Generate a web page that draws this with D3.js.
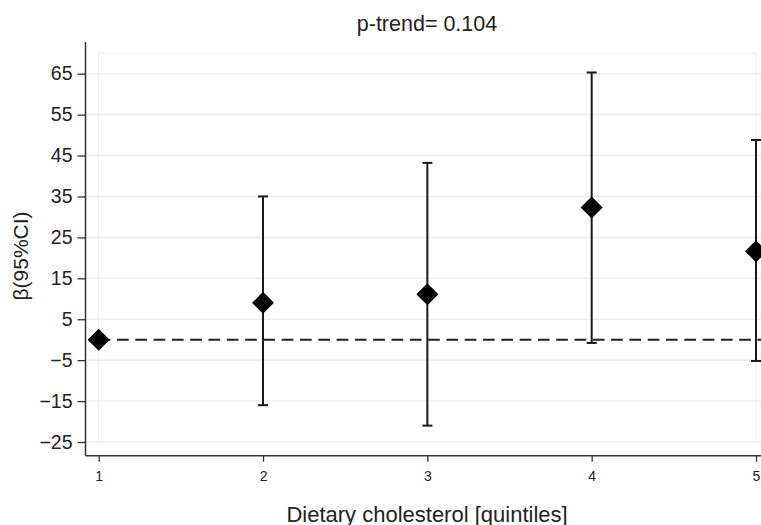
<!DOCTYPE html>
<html>
<head>
<meta charset="utf-8">
<script src="https://cdn.jsdelivr.net/npm/d3@7"></script>
<style>
  html, body { margin: 0; padding: 0; background: #fff; }
  svg { display: block; font-family: "Liberation Sans", Arial, sans-serif; }
</style>
</head>
<body>
<svg id="chart" width="761" height="525"></svg>
<script>
// ---- data ----
const quintiles = [1, 2, 3, 4, 5];
const beta      = [0, 9.0, 11.1, 32.3, 21.6];
const ciLower   = [null, -16.0, -21.0, -0.8, -5.2];
const ciUpper   = [null, 35.0, 43.2, 65.3, 48.8];
const yTicks    = [-25, -15, -5, 5, 15, 25, 35, 45, 55, 65];
const xTicks    = [1, 2, 3, 4, 5];
const titleText = "p-trend= 0.104";
const xTitle    = "Dietary cholesterol [quintiles]";
const yTitle    = "β(95%CI)";

// ---- layout ----
const W = 761, H = 525;
const svg = d3.select("#chart");

const x = d3.scaleLinear().domain([1, 5]).range([98.7, 756]);
const y = d3.scaleLinear().domain([-25, 65]).range([442, 73.7]);

const axisX = 85.5;            // y-axis line position
const axisY = y(-28.35);       // x-axis line position
const axisTop = y(72.75);

// plot region outline
svg.append("rect")
  .attr("x", x(1)).attr("y", y(70))
  .attr("width", x(5) - x(1)).attr("height", y(-25) - y(70))
  .attr("fill", "none").attr("stroke", "#ededed").attr("stroke-width", 1);

// gridlines
svg.append("g").selectAll("line").data(yTicks).join("line")
  .attr("x1", axisX).attr("x2", W)
  .attr("y1", d => y(d)).attr("y2", d => y(d))
  .attr("stroke", "#ececec").attr("stroke-width", 1.5);

// y axis
const gy = svg.append("g").attr("transform", `translate(${axisX},0)`)
  .call(d3.axisLeft(y).tickValues(yTicks).tickSize(8).tickPadding(5).tickFormat(d3.format("d")));
gy.select(".domain").remove();
gy.selectAll(".tick line").attr("stroke", "#333").attr("stroke-width", 1.3);
gy.selectAll(".tick text").attr("font-size", 19.5).attr("fill", "#222")
  .attr("font-family", "Liberation Sans, Arial, sans-serif");
svg.append("line").attr("x1", axisX).attr("x2", axisX)
  .attr("y1", axisTop).attr("y2", axisY)
  .attr("stroke", "#333").attr("stroke-width", 1.5);

// x axis
const gx = svg.append("g").attr("transform", `translate(0,${axisY})`)
  .call(d3.axisBottom(x).tickValues(xTicks).tickSize(6).tickPadding(9).tickFormat(d3.format("d")));
gx.select(".domain").remove();
gx.selectAll(".tick line").attr("stroke", "#333").attr("stroke-width", 1.3);
gx.selectAll(".tick text").attr("font-size", 14).attr("fill", "#222")
  .attr("font-family", "Liberation Sans, Arial, sans-serif");
svg.append("line").attr("x1", axisX).attr("x2", W)
  .attr("y1", axisY).attr("y2", axisY)
  .attr("stroke", "#333").attr("stroke-width", 1.5);

// reference dashed line at 0
svg.append("line")
  .attr("x1", x(1)).attr("x2", W)
  .attr("y1", y(0)).attr("y2", y(0))
  .attr("stroke", "#222").attr("stroke-width", 2)
  .attr("stroke-dasharray", "11.7,6.6");

// error bars
const data = quintiles.map((q, i) => ({ q, b: beta[i], lo: ciLower[i], hi: ciUpper[i] }));
const withCI = data.filter(d => d.lo !== null);
const capHalf = 5;
const eb = svg.append("g").attr("stroke", "#1a1a1a").attr("stroke-width", 2);
eb.selectAll(".stem").data(withCI).join("line").attr("class", "stem")
  .attr("x1", d => x(d.q)).attr("x2", d => x(d.q))
  .attr("y1", d => y(d.lo)).attr("y2", d => y(d.hi));
eb.selectAll(".capHi").data(withCI).join("line").attr("class", "capHi")
  .attr("x1", d => x(d.q) - capHalf).attr("x2", d => x(d.q) + capHalf)
  .attr("y1", d => y(d.hi)).attr("y2", d => y(d.hi));
eb.selectAll(".capLo").data(withCI).join("line").attr("class", "capLo")
  .attr("x1", d => x(d.q) - capHalf).attr("x2", d => x(d.q) + capHalf)
  .attr("y1", d => y(d.lo)).attr("y2", d => y(d.lo));

// diamonds
const r = 11;
svg.append("g").selectAll("path").data(data).join("path")
  .attr("d", d => {
    const cx = x(d.q), cy = y(d.b);
    return `M${cx},${cy - r}L${cx + r},${cy}L${cx},${cy + r}L${cx - r},${cy}Z`;
  })
  .attr("fill", "#000");

// titles
svg.append("text").attr("x", 427).attr("y", 31)
  .attr("text-anchor", "middle").attr("font-size", 21.5).attr("fill", "#222")
  .text(titleText);
svg.append("text").attr("x", 427).attr("y", 521.5)
  .attr("text-anchor", "middle").attr("font-size", 22).attr("fill", "#222")
  .text(xTitle);
svg.append("text")
  .attr("transform", `translate(20,256) rotate(-90)`)
  .attr("text-anchor", "middle").attr("dominant-baseline", "central")
  .attr("font-size", 21).attr("fill", "#222")
  .text(yTitle);
</script>
</body>
</html>
